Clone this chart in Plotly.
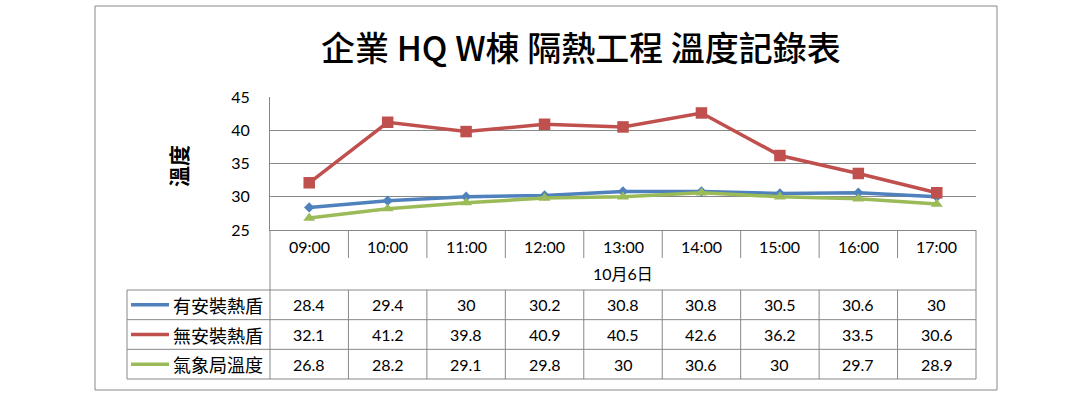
import plotly.graph_objects as go

# ---------------- data ----------------
categories = ["09:00", "10:00", "11:00", "12:00", "13:00", "14:00", "15:00", "16:00", "17:00"]
date_label = "10月6日"
series_names = ["有安裝熱盾", "無安裝熱盾", "氣象局溫度"]
with_shield = [28.4, 29.4, 30, 30.2, 30.8, 30.8, 30.5, 30.6, 30]
without_shield = [32.1, 41.2, 39.8, 40.9, 40.5, 42.6, 36.2, 33.5, 30.6]
weather_bureau = [26.8, 28.2, 29.1, 29.8, 30, 30.6, 30, 29.7, 28.9]
y_ticks = [25, 30, 35, 40, 45]
title_text = "企業 HQ W棟 隔熱工程 溫度記錄表"
y_title = "溫度"

series_values = [with_shield, without_shield, weather_bureau]
colors = ["#4F81BD", "#C0504D", "#9BBB59"]
symbols = ["diamond", "square", "triangle-up"]
msizes = [8, 11.5, 10.5]
key_msizes = [7, 9, 9.5]

# ---------------- layout geometry (pixels) ----------------
W, H = 1090, 398
L, R, T, B = 270, 976, 97, 230
GRID = "#888888"
NUM_FONT = "Lato, Noto Sans CJK TC, sans-serif"
CJK_FONT = "Noto Sans CJK TC, sans-serif"


def px(x):
    return (x - L) / (R - L)


def py(y):
    return (B - y) / (B - T)


fig = go.Figure()

for name, vals, c, s, ms in zip(series_names, series_values, colors, symbols, msizes):
    fig.add_trace(go.Scatter(
        x=categories, y=vals, name=name, mode="lines+markers",
        line=dict(color=c, width=3.5),
        marker=dict(symbol=s, size=ms, color=c, line=dict(width=0)),
        cliponaxis=False, showlegend=False, hoverinfo="skip",
    ))

n = len(categories)
colw = (R - L) / n
row_top = 290
row_h = (379 - 290) / 3
key_x0, key_x1, key_mx = 131, 169, 150

shapes = []


def hline(y, x0, x1):
    shapes.append(dict(type="line", xref="paper", yref="paper", x0=px(x0), x1=px(x1),
                       y0=py(y), y1=py(y), line=dict(color=GRID, width=1)))


def vline(x, y0, y1):
    shapes.append(dict(type="line", xref="paper", yref="paper", x0=px(x), x1=px(x),
                       y0=py(y0), y1=py(y1), line=dict(color=GRID, width=1)))


# outer chart border
shapes.append(dict(type="rect", xref="paper", yref="paper", x0=px(95), x1=px(997),
                   y0=py(6), y1=py(390), line=dict(color=GRID, width=1), fillcolor="rgba(0,0,0,0)"))

# data table grid
for i in range(1, n):
    xb = L + i * colw
    vline(xb, B, 258)
    vline(xb, row_top, row_top + 3 * row_h)
vline(L, B, row_top + 3 * row_h)
vline(R, B, row_top + 3 * row_h)
vline(127, row_top, row_top + 3 * row_h)
for k in range(4):
    hline(row_top + k * row_h, 127, R)

# legend key lines
for k, c in enumerate(colors):
    yc = row_top + (k + 0.5) * row_h
    shapes.append(dict(type="line", xref="paper", yref="paper", x0=px(key_x0), x1=px(key_x1),
                       y0=py(yc), y1=py(yc), line=dict(color=c, width=3.5), layer="below"))

# legend key markers on an overlay pixel axis
for k, (c, s, ms) in enumerate(zip(colors, symbols, key_msizes)):
    yc = row_top + (k + 0.5) * row_h
    fig.add_trace(go.Scatter(
        x=[key_mx], y=[yc], mode="markers", xaxis="x2", yaxis="y2",
        marker=dict(symbol=s, size=ms, color=c, line=dict(width=0)),
        cliponaxis=False, showlegend=False, hoverinfo="skip",
    ))

annotations = []
# category labels
for cat in categories:
    annotations.append(dict(x=cat, xref="x", y=py(246), yref="paper", text=cat, showarrow=False,
                            xanchor="center", yanchor="middle", font=dict(family=NUM_FONT, size=16, color="#000")))
annotations.append(dict(x=px((L + R) / 2), xref="paper", y=py(273), yref="paper", text=date_label,
                        showarrow=False, xanchor="center", yanchor="middle",
                        font=dict(family=NUM_FONT, size=16, color="#000")))
# series rows
for k, (name, vals) in enumerate(zip(series_names, series_values)):
    yc = row_top + (k + 0.5) * row_h
    annotations.append(dict(x=px(171), xref="paper", y=py(yc), yref="paper", text=name, showarrow=False,
                            xanchor="left", yanchor="middle", font=dict(family=CJK_FONT, size=18, color="#000")))
    for cat, v in zip(categories, vals):
        annotations.append(dict(x=cat, xref="x", y=py(yc), yref="paper", text=f"{v:g}", showarrow=False,
                                xanchor="center", yanchor="middle",
                                font=dict(family=NUM_FONT, size=16, color="#000")))
# y axis title
annotations.append(dict(x=px(178), xref="paper", y=py(166), yref="paper", text=f"<b>{y_title}</b>",
                        textangle=-90, showarrow=False, xanchor="center", yanchor="middle",
                        font=dict(family=CJK_FONT, size=21, color="#000")))
# chart title
annotations.append(dict(x=px(581), xref="paper", y=py(47), yref="paper", text=title_text,
                        showarrow=False, xanchor="center", yanchor="middle",
                        font=dict(family=CJK_FONT, size=34, color="#000", weight=500)))

fig.update_layout(
    width=W, height=H,
    margin=dict(l=L, r=W - R, t=T, b=H - B, autoexpand=False),
    paper_bgcolor="white", plot_bgcolor="white",
    xaxis=dict(type="category", categoryarray=categories, range=[-0.5, n - 0.5],
               showticklabels=False, ticks="", showgrid=False, zeroline=False,
               showline=True, linecolor=GRID, linewidth=1, fixedrange=True),
    yaxis=dict(range=[y_ticks[0], y_ticks[-1]], tickvals=y_ticks, ticks="",
               showgrid=True, gridcolor=GRID, gridwidth=1, zeroline=False,
               showline=True, linecolor=GRID, linewidth=1, ticklabelstandoff=16,
               tickfont=dict(family=NUM_FONT, size=16, color="#000"), fixedrange=True),
    xaxis2=dict(overlaying="x", range=[L, R], visible=False, fixedrange=True),
    yaxis2=dict(overlaying="y", range=[B, T], visible=False, fixedrange=True),
    shapes=shapes, annotations=annotations,
    hovermode=False, showlegend=False,
)

# remove the default page margin so the figure fills the window exactly
fig.write_html("out.html", config={"displayModeBar": False, "staticPlot": True},
               post_script="document.body.style.margin='0px';")
